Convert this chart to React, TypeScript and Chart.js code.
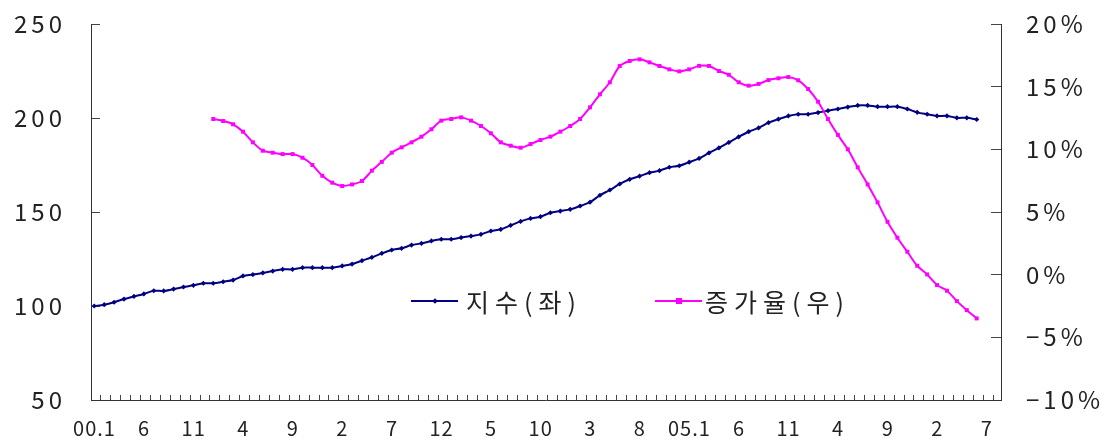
import React, { useEffect, useRef } from 'react';
import { Chart, registerables } from 'chart.js';

Chart.register(...registerables);

// Monthly index (2000.1 = 100), Jan 2000 .. Jun 2007
const indexSeries: number[] = [
  100.0, 100.7, 102.0, 103.7, 105.1, 106.4, 108.1, 108.0, 109.0, 110.1, 111.0, 112.1,
  112.1, 112.9, 113.8, 116.0, 116.7, 117.6, 118.6, 119.5, 119.5, 120.4, 120.4, 120.4,
  120.4, 121.3, 122.3, 124.1, 125.9, 128.0, 129.8, 130.7, 132.4, 133.3, 134.6, 135.5,
  135.5, 136.4, 137.2, 138.1, 139.9, 140.8, 142.9, 145.0, 146.6, 147.5, 149.6, 150.5,
  151.4, 153.2, 155.2, 158.9, 161.7, 164.9, 167.4, 169.1, 170.9, 172.0, 173.8, 174.6,
  176.5, 178.5, 181.4, 184.1, 187.0, 190.0, 192.7, 194.7, 197.5, 199.4, 201.1, 202.0,
  202.0, 202.9, 203.9, 204.8, 205.8, 206.7, 206.7, 206.0, 206.0, 206.0, 204.8, 203.0,
  202.0, 201.1, 201.1, 200.1, 200.1, 199.2,
];

// Year-on-year growth rate (%), Jan 2000 .. Jun 2007 (none for 2000)
const growthSeries: (number | null)[] = [
  null, null, null, null, null, null, null, null, null, null, null, null,
  12.42, 12.26, 12.0, 11.41, 10.56, 9.89, 9.73, 9.62, 9.62, 9.33, 8.75, 7.89,
  7.34, 7.07, 7.2, 7.47, 8.3, 9.0, 9.73, 10.16, 10.56, 11.01, 11.6, 12.29,
  12.42, 12.55, 12.29, 11.86, 11.28, 10.56, 10.29, 10.13, 10.42, 10.74, 11.01, 11.41,
  11.86, 12.42, 13.35, 14.39, 15.35, 16.65, 17.05, 17.18, 16.94, 16.65, 16.38, 16.22,
  16.38, 16.66, 16.65, 16.25, 15.95, 15.35, 15.08, 15.22, 15.53, 15.67, 15.77, 15.51,
  14.81, 13.8, 12.42, 11.15, 10.0, 8.56, 7.2, 5.77, 4.22, 2.95, 1.83, 0.71,
  0.02, -0.83, -1.28, -2.11, -2.83, -3.49,
];

// Month tick labels shown every 5 months, Jan 2000 .. Jul 2007
const xTickLabels: string[] = [
  '00.1', '6', '11', '4', '9', '2', '7', '12', '5', '10',
  '3', '8', '05.1', '6', '11', '4', '9', '2', '7',
];
const monthCount = 91; // Jan 2000 .. Jul 2007
const labelStep = 5;

const leftTicks: number[] = [50, 100, 150, 200, 250];
const rightTicks: number[] = [-10, -5, 0, 5, 10, 15, 20];

const seriesNames: string[] = ['지수(좌)', '증가율(우)'];
const NAVY = '#000080';
const MAGENTA = '#FF00FF';

const FONT_FAMILY = '"Noto Sans CJK KR", "Noto Sans", sans-serif';
const Y_LETTER_SPACING = '4px';
const X_LETTER_SPACING = '1px';
const TEXT_COLOR = '#222';
const AXIS_COLOR = '#333';
const X_MIN = -0.33;
const X_MAX = 91.45;
const TICK_SHIFT = 0.33;

// y-axis labels are drawn before the datasets, x-axis labels (ticks z: 1) after them
const letterSpacingPlugin = {
  id: 'letterSpacingPlugin',
  beforeDraw(chart: any) {
    chart.ctx.letterSpacing = Y_LETTER_SPACING;
  },
  afterDatasetsDraw(chart: any) {
    chart.ctx.letterSpacing = X_LETTER_SPACING;
  },
  afterDraw(chart: any) {
    chart.ctx.letterSpacing = '0px';
  },
};

function LegendSample({ color, square }: { color: string; square: boolean }) {
  return (
    <span
      style={{
        position: 'relative',
        display: 'inline-block',
        width: 47,
        height: 2,
        background: color,
      }}
    >
      <span
        style={{
          position: 'absolute',
          left: '50%',
          top: '50%',
          width: square ? 6 : 4,
          height: square ? 6 : 4,
          background: color,
          transform: square ? 'translate(-50%,-50%)' : 'translate(-50%,-50%) rotate(45deg)',
        }}
      />
    </span>
  );
}

export default function App() {
  const canvasRef = useRef<HTMLCanvasElement>(null);

  useEffect(() => {
    const yFont = { family: FONT_FAMILY, size: 24, lineHeight: 1 };
    const xFont = { family: FONT_FAMILY, size: 20, lineHeight: 1.2 };
    const fixVerticalAxis = (width: number) => (s: any) => {
      s.width = width;
      s.paddingTop = 0;
      s.paddingBottom = 0;
    };
    const chart = new Chart(canvasRef.current as HTMLCanvasElement, {
      type: 'line',
      data: {
        datasets: [
          {
            label: seriesNames[0],
            data: indexSeries.map((y, i) => ({ x: i, y })),
            yAxisID: 'y',
            borderColor: NAVY,
            backgroundColor: NAVY,
            borderWidth: 2,
            pointStyle: 'rectRot',
            pointRadius: 2.6,
            pointBorderWidth: 0,
            tension: 0.3,
            order: 1,
          },
          {
            label: seriesNames[1],
            data: growthSeries
              .map((y, i) => ({ x: i, y }))
              .filter((p) => p.y !== null) as { x: number; y: number }[],
            yAxisID: 'y1',
            borderColor: MAGENTA,
            backgroundColor: MAGENTA,
            borderWidth: 2,
            pointStyle: 'rect',
            pointRadius: 2.8,
            pointBorderWidth: 0,
            tension: 0.3,
            order: 0,
          },
        ],
      },
      options: {
        responsive: false,
        animation: false,
        layout: { padding: { top: 24, left: 0, right: 0, bottom: 0 } },
        plugins: {
          legend: { display: false },
          tooltip: { enabled: false },
        },
        scales: {
          x: {
            type: 'linear',
            min: X_MIN,
            max: X_MAX,
            afterBuildTicks: (s: any) => {
              s.ticks = Array.from({ length: monthCount + 1 }, (_, k) => ({ value: k - TICK_SHIFT }));
            },
            afterFit: (s: any) => {
              s.height = 70;
            },
            ticks: {
              z: 1,
              autoSkip: false,
              maxRotation: 0,
              minRotation: 0,
              labelOffset: 3.5,
              padding: 21,
              font: xFont,
              color: TEXT_COLOR,
              callback: (_v: any, idx: number) =>
                idx % labelStep === 0 && idx / labelStep < xTickLabels.length
                  ? xTickLabels[idx / labelStep]
                  : '',
            },
            grid: { drawOnChartArea: false, drawTicks: true, tickLength: -5, color: '#444' },
            border: { display: true, color: AXIS_COLOR, width: 1 },
          },
          y: {
            type: 'linear',
            position: 'left',
            min: leftTicks[0],
            max: leftTicks[leftTicks.length - 1],
            afterBuildTicks: (s: any) => {
              s.ticks = leftTicks.map((value) => ({ value }));
            },
            afterFit: fixVerticalAxis(91),
            ticks: { font: yFont, color: TEXT_COLOR, padding: 34 },
            grid: { drawOnChartArea: false, drawTicks: true, tickLength: -9, color: '#444' },
            border: { display: true, color: AXIS_COLOR, width: 1 },
          },
          y1: {
            type: 'linear',
            position: 'right',
            min: rightTicks[0],
            max: rightTicks[rightTicks.length - 1],
            afterBuildTicks: (s: any) => {
              s.ticks = rightTicks.map((value) => ({ value }));
            },
            afterFit: fixVerticalAxis(105),
            ticks: {
              font: yFont,
              color: TEXT_COLOR,
              padding: 35,
              callback: (v: any) => (Number(v) < 0 ? '\u2212' + Math.abs(Number(v)) : String(v)) + '%',
            },
            grid: { drawOnChartArea: false, drawTicks: true, tickLength: -10, color: '#444' },
            border: { display: true, color: AXIS_COLOR, width: 1 },
          },
        },
      },
      plugins: [letterSpacingPlugin],
    } as any);
    return () => chart.destroy();
  }, []);

  const legendText: React.CSSProperties = {
    fontFamily: FONT_FAMILY,
    fontSize: 25,
    letterSpacing: '6px',
    color: TEXT_COLOR,
    marginLeft: 8,
    lineHeight: '28px',
  };

  return (
    <div
      style={{
        position: 'absolute',
        left: 0,
        top: 0,
        width: 1106,
        height: 441,
        overflow: 'hidden',
        background: '#fff',
      }}
    >
      <canvas ref={canvasRef} width={1106} height={470} style={{ display: 'block', width: 1106, height: 470 }} />
      <div style={{ position: 'absolute', left: 411, top: 287, display: 'flex', alignItems: 'center' }}>
        <LegendSample color={NAVY} square={false} />
        <span style={legendText}>{seriesNames[0]}</span>
      </div>
      <div style={{ position: 'absolute', left: 655, top: 287, display: 'flex', alignItems: 'center' }}>
        <LegendSample color={MAGENTA} square={true} />
        <span style={{ ...legendText, marginLeft: 3 }}>{seriesNames[1]}</span>
      </div>
    </div>
  );
}
